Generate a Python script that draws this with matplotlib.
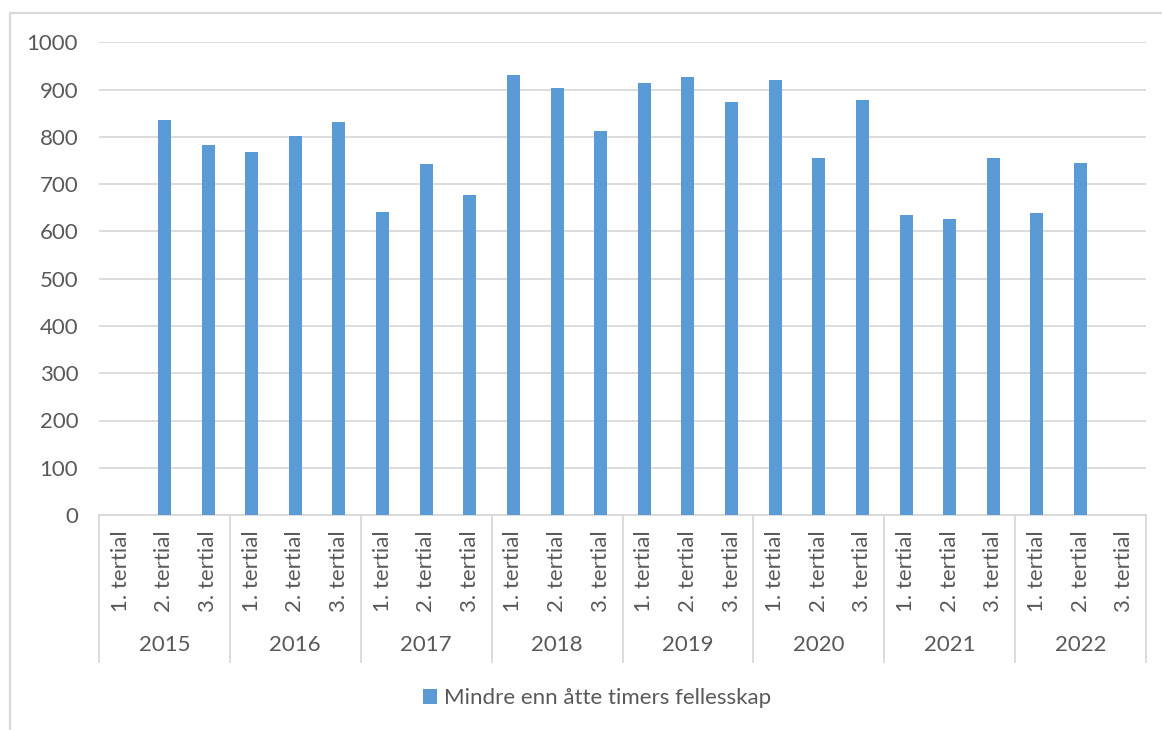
import numpy as np
import matplotlib
matplotlib.use("Agg")
import matplotlib.pyplot as plt
import matplotlib.transforms as mtransforms
from matplotlib.patches import Rectangle

YEARS = ["2015", "2016", "2017", "2018", "2019", "2020", "2021", "2022"]
TERTIALS = ["1. tertial", "2. tertial", "3. tertial"]
# values per year (1., 2., 3. tertial); nan = no bar
V2015 = [np.nan, 836, 784]
V2016 = [768, 803, 831]
V2017 = [641, 743, 678]
V2018 = [931, 904, 812]
V2019 = [915, 928, 874]
V2020 = [920, 755, 879]
V2021 = [635, 627, 755]
V2022 = [640, 746, np.nan]
SERIES = "Mindre enn åtte timers fellesskap"

BAR = "#5B9BD5"
GRID = "#D9D9D9"
TXT = "#595959"
FS = 16

plt.rcParams["font.family"] = ["Lato", "DejaVu Sans"]

values = V2015 + V2016 + V2017 + V2018 + V2019 + V2020 + V2021 + V2022
n = len(values)
x = np.arange(n)

W, H = 1162, 730
fig = plt.figure(figsize=(W / 100, H / 100), dpi=100)
fig.patch.set_facecolor("white")
# outer chart border (runs off right/bottom edge)
fig.patches.append(Rectangle((10 / W, -0.2), 1.2, 0.2 + (H - 13) / H, transform=fig.transFigure,
                             fill=False, edgecolor=GRID, lw=1.6))

ax = fig.add_axes([99 / W, (H - 515) / H, (1146 - 99) / W, (515 - 42.5) / H])
ax.bar(x, values, width=0.3, color=BAR, label=SERIES, zorder=3)
ax.set_xlim(-0.5, n - 0.5)
ax.set_ylim(0, 1000)
ax.set_yticks(np.arange(0, 1001, 100))
ax.yaxis.grid(True, color=GRID, lw=1.3, zorder=0)
for s in ("top", "right", "left"):
    ax.spines[s].set_visible(False)
ax.spines["bottom"].set_color(GRID)
ax.spines["bottom"].set_linewidth(1.3)
ax.tick_params(axis="y", length=0, pad=15, labelsize=FS, labelcolor=TXT)
ax.set_xticks(x)
ax.set_xticklabels(TERTIALS * len(YEARS), rotation=90, va="top", ha="center")
ax.tick_params(axis="x", length=0, pad=11, labelsize=FS, labelcolor=TXT)

# multi-level category axis: separators and year labels
trans = mtransforms.blended_transform_factory(ax.transData, ax.transAxes)
ph = (515 - 42.5)
sep_bottom = -(662 - 515) / ph
for k in range(len(YEARS) + 1):
    xs = 3 * k - 0.5
    ax.plot([xs, xs], [0, sep_bottom], transform=trans, color=GRID, lw=1.3, clip_on=False)
for k, yr in enumerate(YEARS):
    ax.text(3 * k + 1, -(645 - 515) / ph, yr, transform=trans, ha="center", va="center",
            fontsize=FS, color=TXT)

leg = fig.legend(loc="center", bbox_to_anchor=(597 / W, (H - 698) / H), frameon=False,
                 fontsize=FS, handlelength=0.65, handleheight=0.65, handletextpad=0.3,
                 labelcolor=TXT)

fig.savefig("out.png", dpi=100, facecolor="white")
